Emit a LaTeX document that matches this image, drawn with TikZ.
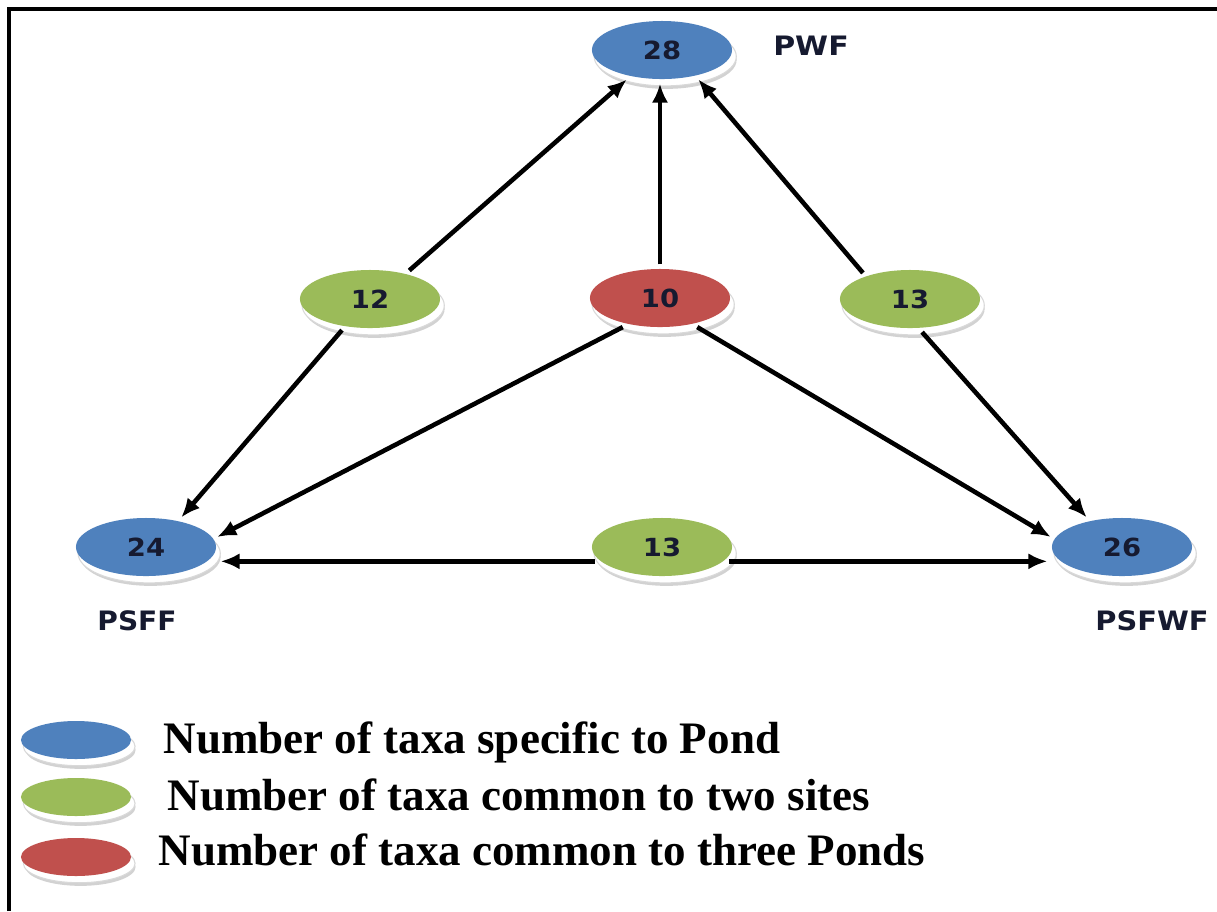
\documentclass[tikz,border=0pt]{standalone}
\usepackage{fontspec}
\usepackage{graphicx}
\setmainfont{Liberation Serif}
\newfontfamily\lblfont{DejaVu Sans}
\usetikzlibrary{shapes.geometric,arrows.meta,shadows}
\definecolor{pblue}{RGB}{79,129,189}
\definecolor{pgreen}{RGB}{155,187,89}
\definecolor{pred}{RGB}{192,80,77}
\definecolor{numtext}{RGB}{22,26,48}
\begin{document}
\begin{tikzpicture}[x=0.01cm,y=-0.01cm,
  disc/.style={ellipse, minimum width=1.40cm, minimum height=0.58cm, inner sep=0pt, outer sep=1.3pt,
    general shadow={fill=gray!35, shadow xshift=1.3pt, shadow yshift=-2.8pt},
    general shadow={fill=white, draw=gray!30, line width=0.3pt, shadow xshift=0.9pt, shadow yshift=-1.8pt, shadow scale=1.015},
    font=\lblfont\fontsize{7.1}{8}\bfseries, text=numtext},
  ldisc/.style={disc, minimum width=1.10cm, minimum height=0.38cm},
  blue/.style={fill=pblue}, green/.style={fill=pgreen}, red/.style={fill=pred},
  site/.style={font=\lblfont\fontsize{7.6}{8}\bfseries, text=numtext, inner sep=0pt},
  legend/.style={font=\fontsize{12.8}{14}\bfseries, anchor=base west, inner sep=0pt},
  arr/.style={-{Latex[length=5.4pt,width=4.6pt]}, line width=1.3pt},
  frame/.style={line width=0.9pt}]
\useasboundingbox (0,0) rectangle (1217,911);
\fill[white] (0,0) rectangle (1217,911);
% frame (top and left edges visible)
\coordinate (f1) at (9,911);
\coordinate (f2) at (9,9);
\coordinate (f3) at (1217,9);
\draw[frame] (f1) -- (f2) -- (f3);

% nodes
\node[disc,blue]  (pwf) at (662,50)  {\scalebox{1.1}[1]{28}};
\node[disc,green] (g12) at (370,299) {\scalebox{1.1}[1]{12}};
\node[disc,red]   (r10) at (660,298) {\scalebox{1.1}[1]{10}};
\node[disc,green] (g13) at (910,299) {\scalebox{1.1}[1]{13}};
\node[disc,blue]  (b24) at (146,547) {\scalebox{1.1}[1]{24}};
\node[disc,green] (g13b) at (662,547) {\scalebox{1.1}[1]{13}};
\node[disc,blue]  (b26) at (1122,547) {\scalebox{1.1}[1]{26}};

\node[site] (lpwf) at (811,46) {\scalebox{1.12}[1]{PWF}};
\node[site] (lpsff) at (137,621) {\scalebox{1.05}[1]{PSFF}};
\node[site] (lpsfwf) at (1152,621) {\scalebox{1.08}[1]{PSFWF}};

% connectors
\draw[arr] (g12.36) -- (pwf.220);
\draw[arr] (r10.north) -- (r10.north |- pwf.south);
\draw[arr] (g13.151) -- (pwf.-39);
\draw[arr] (g12.228) -- (b24.40);
\draw[arr] (r10.218) -- (b24.8);
\draw[arr] (r10.-38) -- (b26.172);
\draw[arr] (g13.-70) -- (b26.140);
\draw[arr] (g13b.192) -- (g13b.192 -| b24.east);
\draw[arr] (g13b.-12) -- (g13b.-12 -| b26.west);

% legend
\node[ldisc,blue]  (lgb) at (76,740) {};
\node[ldisc,green] (lgg) at (76,797) {};
\node[ldisc,red]   (lgr) at (76,857) {};
\node[legend] (t1) at (163,753) {Number of taxa specific to Pond};
\node[legend] (t2) at (167,810) {Number of taxa common to two sites};
\node[legend] (t3) at (158,865) {Number of taxa common to three Ponds};
\end{tikzpicture}
\end{document}
